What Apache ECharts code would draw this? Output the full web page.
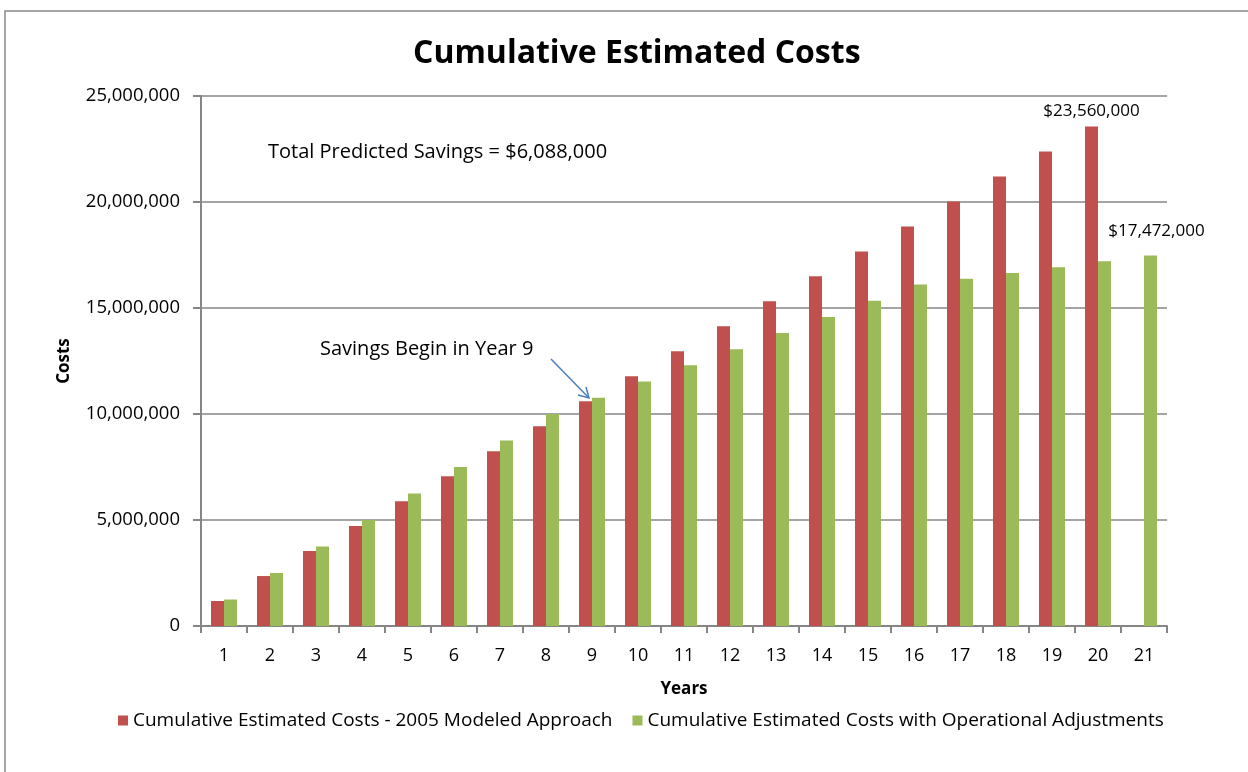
<!DOCTYPE html>
<html>
<head>
<meta charset="utf-8">
<script src="https://cdn.jsdelivr.net/npm/echarts@6/dist/echarts.min.js"></script>
<style>
  html, body { margin: 0; padding: 0; background: #fff; }
  #chart { width: 1248px; height: 772px; }
</style>
</head>
<body>
<div id="chart"></div>
<script>
// years on the x axis
const years = ['1', '2', '3', '4', '5', '6', '7', '8', '9', '10', '11', '12', '13', '14', '15', '16', '17', '18', '19', '20', '21']
// 2005 modeled approach (no value for year 21)
const modeledCosts = [1178000, 2356000, 3534000, 4712000, 5890000, 7068000, 8246000, 9424000, 10602000, 11780000,
  12958000, 14136000, 15314000, 16492000, 17670000, 18848000, 20026000, 21204000, 22382000, 23560000, null]
// with operational adjustments
const adjustedCosts = [1250000, 2500000, 3750000, 5000000, 6250000, 7500000, 8750000, 10000000, 10770000, 11530000,
  12300000, 13060000, 13820000, 14580000, 15340000, 16110000, 16384000, 16656000, 16928000, 17200000, 17472000]
const yTicks = [0, 5000000, 10000000, 15000000, 20000000, 25000000]
const seriesNames = ['Cumulative Estimated Costs - 2005 Modeled Approach', 'Cumulative Estimated Costs with Operational Adjustments']

const FONT = '"Open Sans", sans-serif'
const axisGray = '#868686'

// only the last bar of each series carries a value label
function withEndLabel (arr, offset) {
  let last = -1
  arr.forEach((v, i) => { if (v != null) last = i })
  return arr.map((v, i) => {
    if (i !== last) return v
    return {
      value: v,
      label: {
        show: true,
        position: 'top',
        distance: offset,
        formatter: p => '$' + p.value.toLocaleString('en-US'),
        color: '#000',
        fontSize: 17,
        fontFamily: FONT
      }
    }
  })
}

const myChart = echarts.init(document.getElementById('chart'))
const option = {
  animation: false,
  backgroundColor: '#fff',
  title: {
    text: 'Cumulative Estimated Costs',
    left: 408,
    top: 33,
    textStyle: { fontSize: 32, fontWeight: 'bold', color: '#000', fontFamily: FONT }
  },
  grid: { left: 201, right: 81, top: 96, bottom: 146 },
  legend: {
    data: seriesNames,
    bottom: 37,
    left: 113,
    icon: 'rect',
    itemWidth: 10,
    itemHeight: 10,
    itemGap: 20,
    itemStyle: { borderWidth: 0 },
    textStyle: { fontSize: 19, color: '#000', fontFamily: FONT }
  },
  xAxis: {
    type: 'category',
    data: years,
    name: 'Years',
    nameLocation: 'middle',
    nameGap: 55,
    nameTextStyle: { fontSize: 17, fontWeight: 'bold', color: '#000', fontFamily: FONT },
    axisLine: { lineStyle: { color: axisGray, width: 2 } },
    axisTick: { show: true, length: 7, lineStyle: { color: axisGray, width: 2 } },
    axisLabel: { color: '#000', fontSize: 18, margin: 21, fontFamily: FONT }
  },
  yAxis: {
    type: 'value',
    min: yTicks[0],
    max: yTicks[yTicks.length - 1],
    interval: yTicks[1] - yTicks[0],
    name: 'Costs',
    nameLocation: 'middle',
    nameGap: 128,
    nameRotate: 90,
    nameTextStyle: { fontSize: 17, fontWeight: 'bold', color: '#000', fontFamily: FONT },
    axisLine: { show: true, lineStyle: { color: axisGray, width: 2 } },
    axisTick: { show: true, length: 8, lineStyle: { color: axisGray, width: 2 } },
    axisLabel: {
      color: '#000',
      fontSize: 18.5,
      margin: 21,
      fontFamily: FONT,
      formatter: v => v.toLocaleString('en-US')
    },
    splitLine: { lineStyle: { color: axisGray, width: 1.5 } }
  },
  series: [{
    name: seriesNames[0],
    type: 'bar',
    data: withEndLabel(modeledCosts, 7),
    barWidth: 13,
    barGap: '0%',
    itemStyle: { color: '#C0504D' }
  }, {
    name: seriesNames[1],
    type: 'bar',
    data: withEndLabel(adjustedCosts, 16),
    barWidth: 13,
    barGap: '0%',
    itemStyle: { color: '#9BBB59' },
    label: { offset: [6, 0] }
  }],
  graphic: [
    // outer chart frame (only top and left edges fall inside the picture)
    { type: 'rect', shape: { x: 5, y: 11, width: 1300, height: 820 }, style: { fill: 'none', stroke: '#898989', lineWidth: 1.5 }, z: -1 },
    { type: 'text', left: 268, top: 142, style: { text: 'Total Predicted Savings = $6,088,000', fontSize: 20, fill: '#000', fontFamily: FONT } },
    { type: 'text', left: 320, top: 339, style: { text: 'Savings Begin in Year 9', fontSize: 20, fill: '#000', fontFamily: FONT } },
    { type: 'line', shape: { x1: 551, y1: 359, x2: 588, y2: 397 }, style: { stroke: '#4A7EBB', lineWidth: 1.5 } },
    { type: 'polyline', shape: { points: [[578, 395], [589, 398], [586, 387]] }, style: { stroke: '#4A7EBB', lineWidth: 1.5, fill: 'none' } }
  ]
}
myChart.setOption(option, true)
</script>
</body>
</html>
